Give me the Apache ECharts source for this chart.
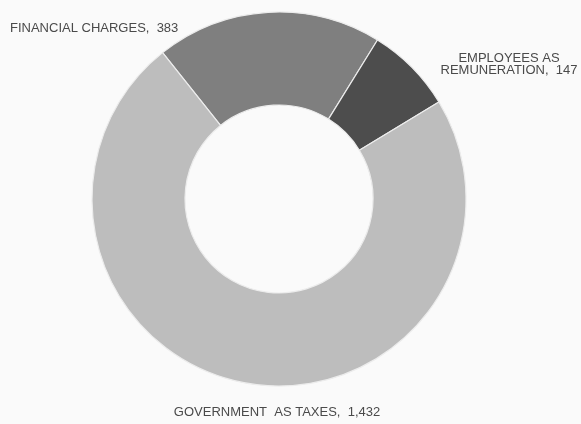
<!DOCTYPE html>
<html>
<head>
<meta charset="utf-8">
<script src="https://cdn.jsdelivr.net/npm/echarts@6/dist/echarts.min.js"></script>
<style>
  html, body { margin: 0; padding: 0; background: #fafafa; }
  #chart { width: 581px; height: 424px; }
</style>
</head>
<body>
<div id="chart"></div>
<script>
// Distribution of value added
const categories = ['FINANCIAL CHARGES', 'EMPLOYEES AS\nREMUNERATION', 'GOVERNMENT  AS TAXES'];
const values = [383, 147, 1432];
const sliceColors = ['#7f7f7f', '#4d4d4d', '#bdbdbd'];

// Where each slice's label sits on the canvas
const labelSpots = [
  { x: 10, y: 28, align: 'left' },
  { x: 509, y: 64, align: 'center' },
  { x: 277, y: 412, align: 'center' }
];

const chart = echarts.init(document.getElementById('chart'), null, { renderer: 'canvas' });

chart.setOption({
  backgroundColor: '#fafafa',
  animation: false,
  series: [{
    type: 'pie',
    center: [279, 199],
    radius: [94, 187],
    startAngle: 128.5,
    clockwise: true,
    avoidLabelOverlap: false,
    itemStyle: { borderColor: '#ececec', borderWidth: 1.2 },
    label: {
      show: true,
      position: 'outside',
      color: '#4a4a4a',
      fontFamily: 'Liberation Sans, Arial, sans-serif',
      fontSize: 13,
      lineHeight: 12,
      formatter: p => p.name + ',  ' + p.value.toLocaleString('en-US')
    },
    labelLine: { show: false },
    labelLayout: p => Object.assign({ verticalAlign: 'middle' }, labelSpots[p.dataIndex]),
    data: categories.map((name, i) => ({
      name: name,
      value: values[i],
      itemStyle: { color: sliceColors[i] }
    }))
  }]
});
</script>
</body>
</html>
